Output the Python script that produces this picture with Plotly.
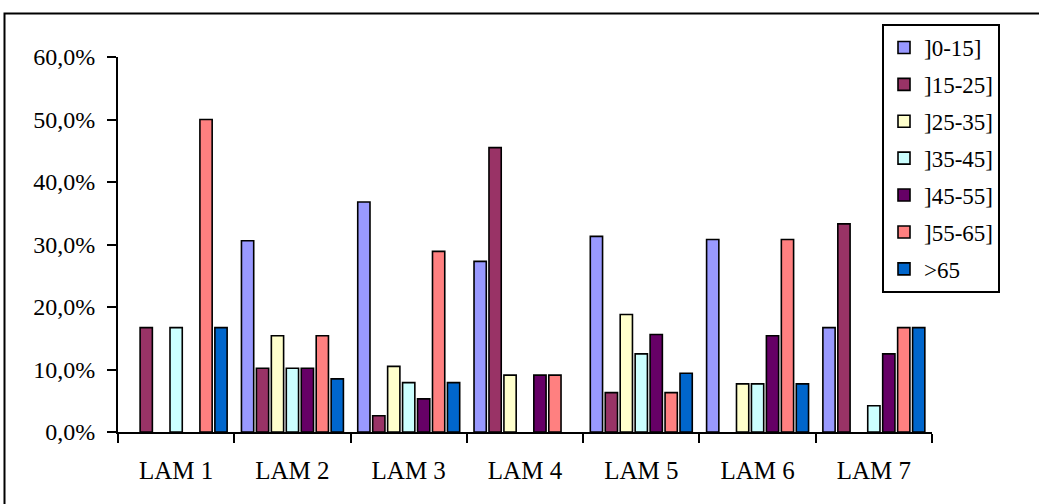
import plotly.graph_objects as go

# Age-band distribution per LAM group (percent)
categories = ["LAM 1", "LAM 2", "LAM 3", "LAM 4", "LAM 5", "LAM 6", "LAM 7"]
age_bands = ["]0-15]", "]15-25]", "]25-35]", "]35-45]", "]45-55]", "]55-65]", ">65"]

band_0_15 = [0, 30.6, 36.8, 27.3, 31.3, 30.8, 16.7]
band_15_25 = [16.7, 10.2, 2.6, 45.5, 6.3, 0, 33.3]
band_25_35 = [0, 15.4, 10.5, 9.1, 18.8, 7.7, 0]
band_35_45 = [16.7, 10.2, 7.9, 0, 12.5, 7.7, 4.2]
band_45_55 = [0, 10.2, 5.3, 9.1, 15.6, 15.4, 12.5]
band_55_65 = [50.0, 15.4, 28.9, 9.1, 6.3, 30.8, 16.7]
band_over_65 = [16.7, 8.5, 7.9, 0, 9.4, 7.7, 16.7]

series = [band_0_15, band_15_25, band_25_35, band_35_45,
          band_45_55, band_55_65, band_over_65]
colors = ["#9999FF", "#993366", "#FFFFCC", "#CCFFFF",
          "#660066", "#FF8080", "#0066CC"]

W, H = 1039, 504
ML, MR, MT, MB = 118, 107, 57, 72
PW, PH = W - ML - MR, H - MT - MB

FONT = "Liberation Serif, Times New Roman, serif"

fig = go.Figure()
for name, vals, col in zip(age_bands, series, colors):
    # empty bands get no bar at all (avoids a flat outline on the axis)
    shown = [v if v > 0 else None for v in vals]
    fig.add_trace(go.Bar(
        x=categories, y=shown, name=name, legendgroup=name,
        marker=dict(color=col, line=dict(color="black", width=1.6)),
    ))


def px_to_paper_x(px):
    return (px - ML) / PW


def px_to_paper_y(py):
    return (H - MB - py) / PH


fig.update_layout(
    width=W, height=H,
    margin=dict(l=ML, r=MR, t=MT, b=MB),
    paper_bgcolor="white", plot_bgcolor="white",
    barmode="group", bargap=0.1, bargroupgap=0.18,
    separators=", ",
    font=dict(family=FONT, size=24, color="black"),
    showlegend=True,
    legend=dict(
        x=px_to_paper_x(882), y=px_to_paper_y(24),
        xanchor="left", yanchor="top",
        bordercolor="black", borderwidth=2, bgcolor="white",
        font=dict(family=FONT, size=23, color="black"),
        traceorder="grouped", tracegroupgap=4,
        itemwidth=30, maxheight=400,
    ),
    xaxis=dict(
        showline=True, linecolor="black", linewidth=2,
        ticks="outside", tickson="boundaries", ticklen=9,
        tickwidth=2, tickcolor="black",
        showgrid=False, zeroline=False,
        tickfont=dict(size=25),
        ticklabelstandoff=15,
    ),
    yaxis=dict(
        range=[0, 60], dtick=10, tickformat=".1f", ticksuffix="%",
        showline=True, linecolor="black", linewidth=2,
        ticks="outside", ticklen=9, tickwidth=2, tickcolor="black",
        showgrid=False, zeroline=False,
        ticklabelstandoff=7,
    ),
    shapes=[dict(
        type="rect", xref="paper", yref="paper",
        x0=px_to_paper_x(4.5), x1=px_to_paper_x(1100),
        y0=px_to_paper_y(13.5), y1=px_to_paper_y(560),
        line=dict(color="black", width=2), fillcolor="rgba(0,0,0,0)",
        layer="below",
    )],
)

fig.write_html("out.html")
